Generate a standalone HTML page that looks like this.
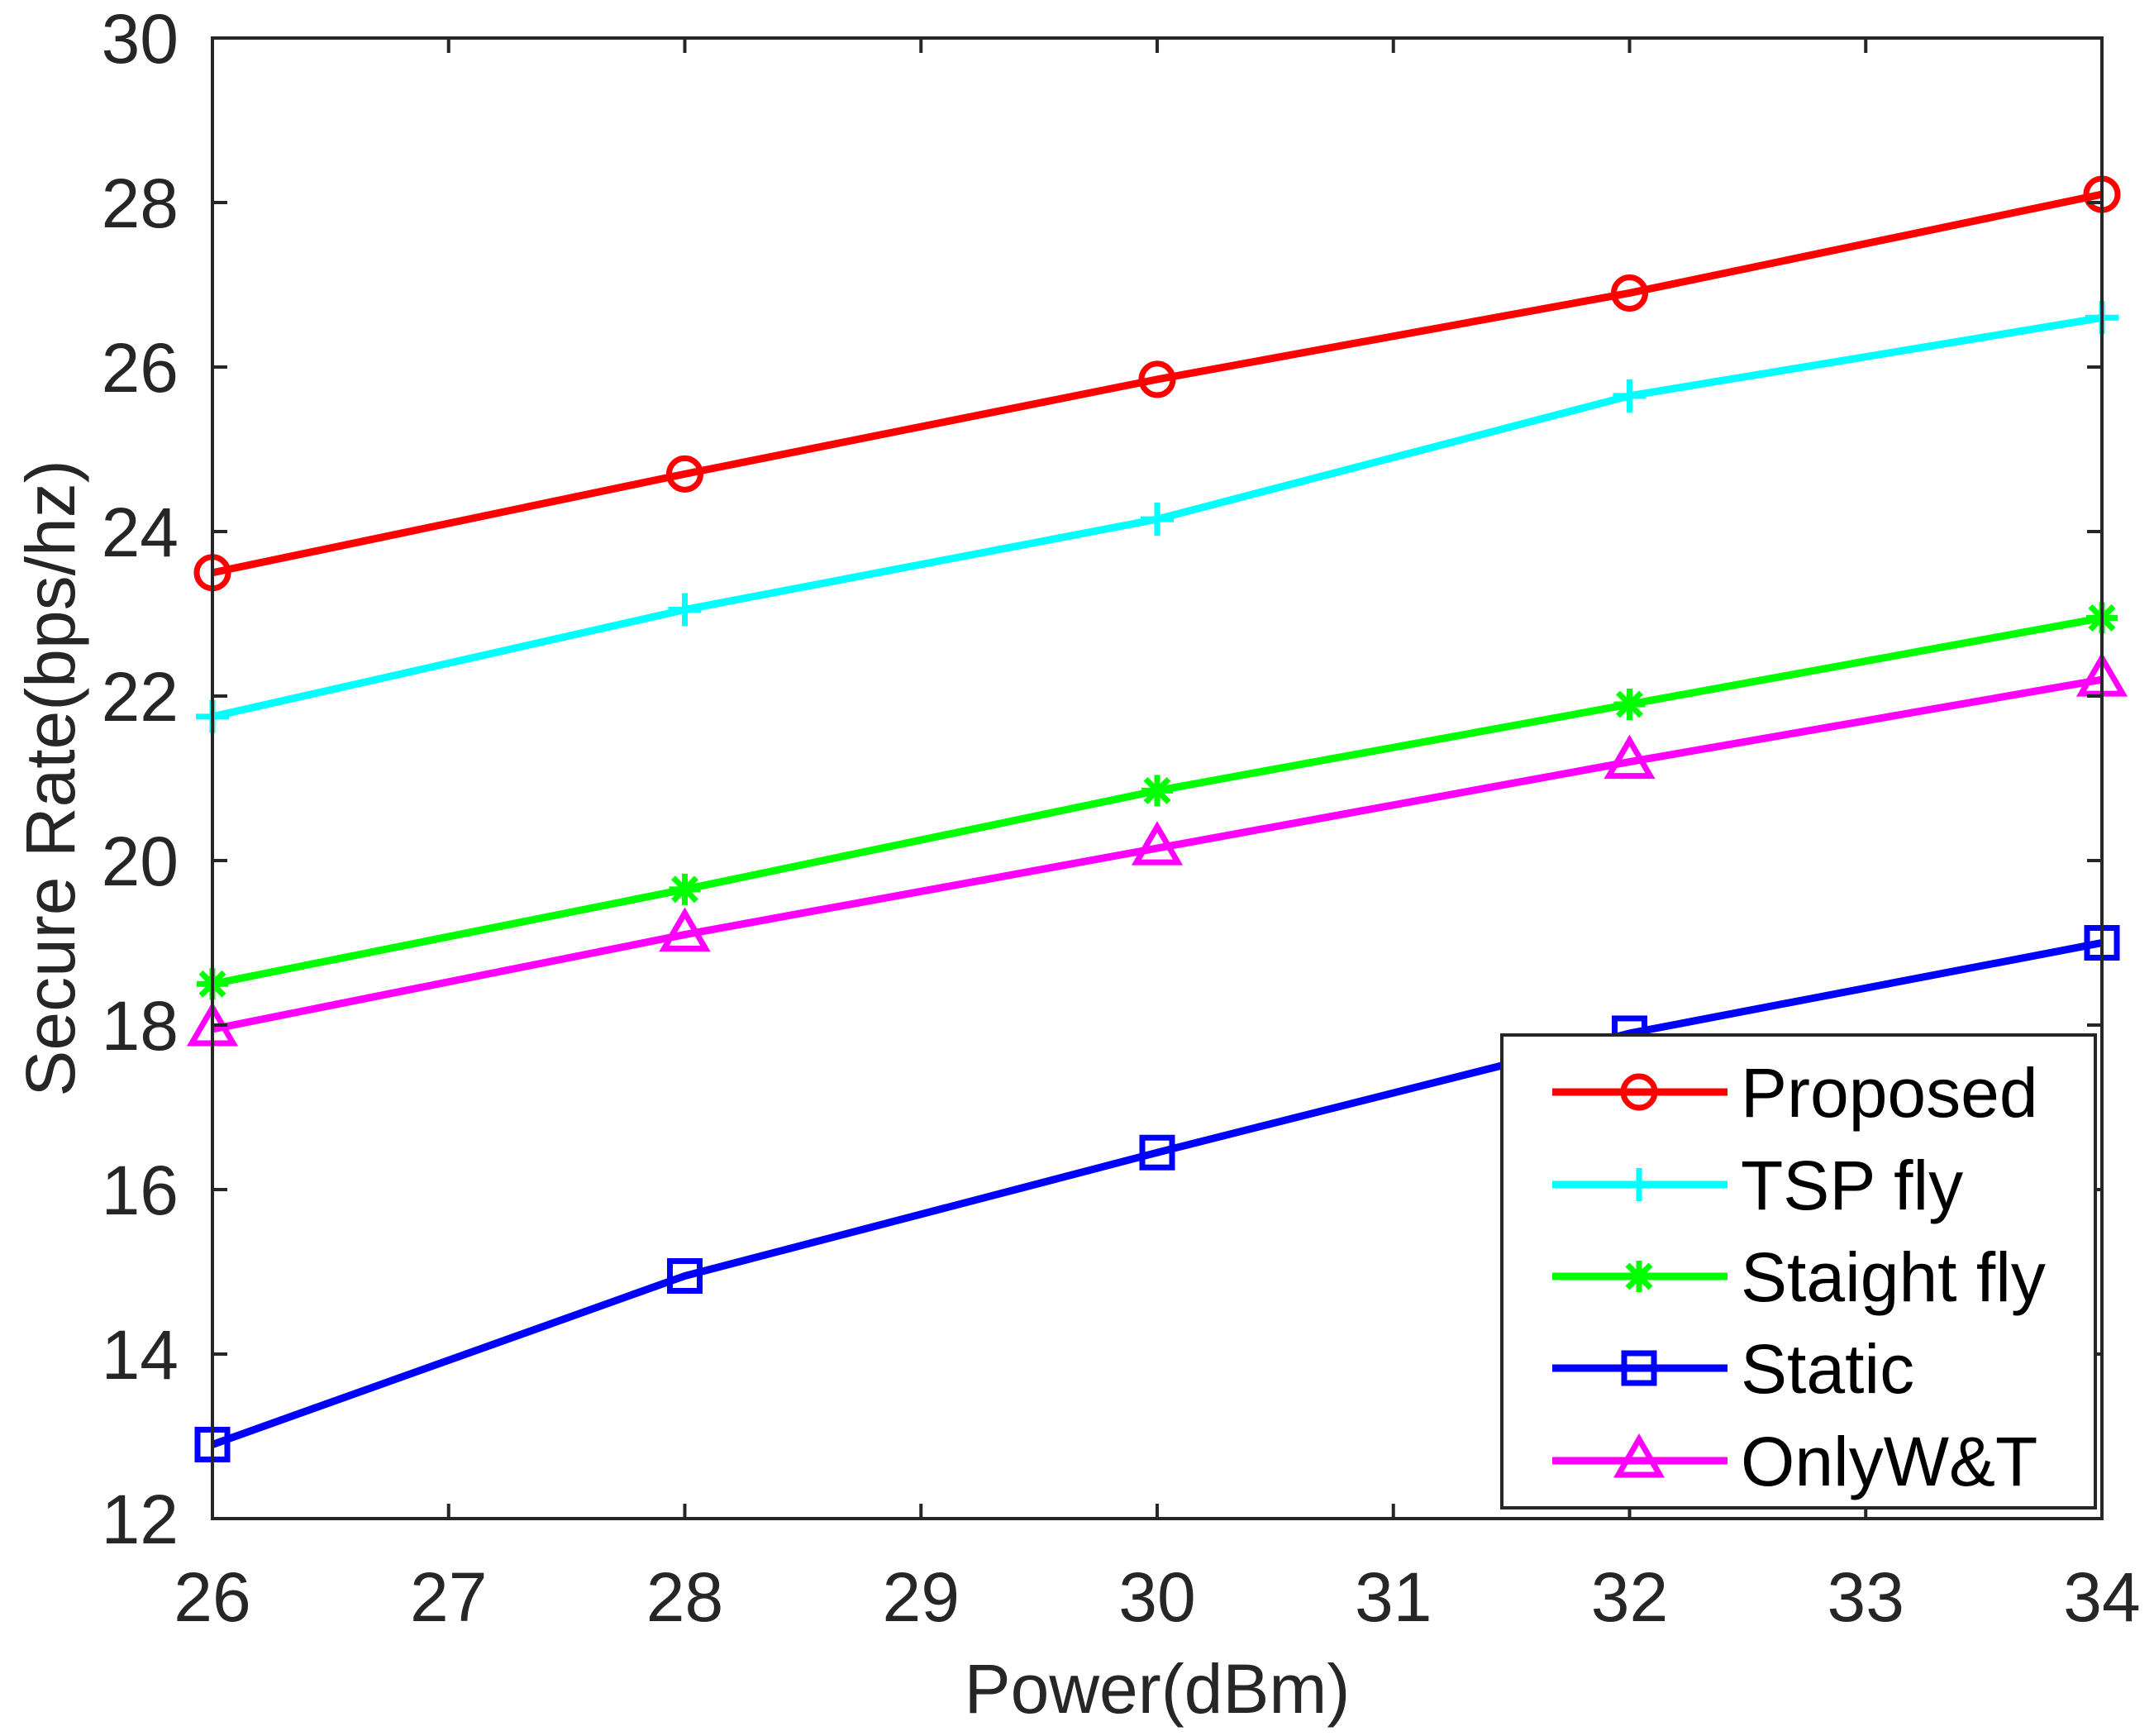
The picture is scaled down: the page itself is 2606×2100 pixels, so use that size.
<!DOCTYPE html>
<html><head><meta charset="utf-8"><style>
html,body{margin:0;padding:0;background:#fff;}
svg{display:block;font-family:"Liberation Sans",Arial,sans-serif;}
</style></head><body>
<svg id="chart" width="2606" height="2100" viewBox="0 0 2606 2100" xmlns="http://www.w3.org/2000/svg">
<rect width="2606" height="2100" fill="#fff"/>
<g id="grid"></g>
<g id="series"></g>
<g id="axes"></g>
<g id="legend"></g>
</svg>
<script>
const categories = [26, 28, 30, 32, 34];
const proposed = [23.5, 24.7, 25.85, 26.9, 28.1];
const tspFly = [21.75, 23.05, 24.15, 25.65, 26.6];
const straightFly = [18.5, 19.65, 20.85, 21.9, 22.95];
const staticVals = [12.9, 14.95, 16.45, 17.9, 19.0];
const onlyWT = [17.95, 19.1, 20.15, 21.2, 22.2];
const xTicks = [26, 27, 28, 29, 30, 31, 32, 33, 34];
const yTicks = [12, 14, 16, 18, 20, 22, 24, 26, 28, 30];
const seriesNames = ["Proposed", "TSP fly", "Staight fly", "Static", "OnlyW&T"];

const NS = "http://www.w3.org/2000/svg";
const L = 257, R = 2543, T = 46, B = 1837;
const xMin = 26, xMax = 34, yMin = 12, yMax = 30;
function xs(v){ return L + (v - xMin) / (xMax - xMin) * (R - L); }
function ys(v){ return B - (v - yMin) / (yMax - yMin) * (B - T); }
function mk(tag, attrs, parent){
  const e = document.createElementNS(NS, tag);
  for (const k in attrs) e.setAttribute(k, attrs[k]);
  parent.appendChild(e);
  return e;
}
const axes = document.getElementById('axes');
const seriesG = document.getElementById('series');
const legendG = document.getElementById('legend');
const ink = "#262626";
const FS = 84;

xTicks.forEach(v => {
  const x = xs(v);
  const t1 = mk('line', {x1:x, y1:B, x2:x, y2:B-18, stroke:ink, 'stroke-width':4}, axes);
  
  
  const t2 = mk('line', {x1:x, y1:T, x2:x, y2:T+18, stroke:ink, 'stroke-width':4}, axes);
  
  
  const lb = mk('text', {x:x, y:1961, 'text-anchor':'middle', 'font-size':FS, fill:ink}, axes);
  lb.textContent = v;
  
  
});
yTicks.forEach(v => {
  const y = ys(v);
  const t1 = mk('line', {x1:L, y1:y, x2:L+18, y2:y, stroke:ink, 'stroke-width':4}, axes);
  
  
  const t2 = mk('line', {x1:R, y1:y, x2:R-18, y2:y, stroke:ink, 'stroke-width':4}, axes);
  
  
  const lb = mk('text', {x:216, y:y+30, 'text-anchor':'end', 'font-size':FS, fill:ink}, axes);
  lb.textContent = v;
  
  
});
const frame = mk('rect', {x:L, y:T, width:R-L, height:B-T, fill:'none', stroke:ink, 'stroke-width':4}, axes);


const xt = mk('text', {x:(L+R)/2, y:2072, 'text-anchor':'middle', 'font-size':FS, fill:ink}, axes);
xt.textContent = 'Power(dBm)';


const yt = mk('text', {x:0, y:0, 'text-anchor':'middle', 'font-size':FS, fill:ink, transform:'translate(90,'+((T+B)/2)+') rotate(-90)'}, axes);
yt.textContent = 'Secure Rate(bps/hz)';



function marker(type, x, y, color, parent){
  const g = mk('g', {}, parent);
  const sw = 7;
  if (type === 'circle') mk('circle', {cx:x, cy:y, r:19, fill:'none', stroke:color, 'stroke-width':sw}, g);
  else if (type === 'plus') { mk('line', {x1:x-20,y1:y,x2:x+20,y2:y,stroke:color,'stroke-width':sw}, g); mk('line', {x1:x,y1:y-20,x2:x,y2:y+20,stroke:color,'stroke-width':sw}, g); }
  else if (type === 'star') {
    mk('line', {x1:x-19,y1:y,x2:x+19,y2:y,stroke:color,'stroke-width':sw}, g);
    mk('line', {x1:x,y1:y-19,x2:x,y2:y+19,stroke:color,'stroke-width':sw}, g);
    mk('line', {x1:x-14,y1:y-14,x2:x+14,y2:y+14,stroke:color,'stroke-width':sw}, g);
    mk('line', {x1:x-14,y1:y+14,x2:x+14,y2:y-14,stroke:color,'stroke-width':sw}, g);
  }
  else if (type === 'square') mk('rect', {x:x-18, y:y-18, width:36, height:36, fill:'none', stroke:color, 'stroke-width':sw}, g);
  else if (type === 'triangle') mk('polygon', {points:(x)+','+(y-26)+' '+(x-25)+','+(y+17)+' '+(x+25)+','+(y+17), fill:'none', stroke:color, 'stroke-width':sw}, g);
  return g;
}

const allSeries = [
  {vals: proposed, color:'#ff0000', m:'circle', key:'proposed'},
  {vals: tspFly, color:'#00ffff', m:'plus', key:'tsp-fly'},
  {vals: straightFly, color:'#00ff00', m:'star', key:'straight-fly'},
  {vals: staticVals, color:'#0000ff', m:'square', key:'static'},
  {vals: onlyWT, color:'#ff00ff', m:'triangle', key:'only-wt'}
];
allSeries.forEach(s => {
  const g = mk('g', {}, seriesG);
  
  
  const pts = s.vals.map((v,i) => xs(categories[i]) + ',' + ys(v)).join(' ');
  const pl = mk('polyline', {points:pts, fill:'none', stroke:s.color, 'stroke-width':9, 'stroke-linejoin':'round'}, g);
  
  
  s.vals.forEach((v,i) => {
    const m = marker(s.m, xs(categories[i]), ys(v), s.color, g);
    
    
  });
});

const lb = mk('rect', {x:1817, y:1252, width:718, height:572, fill:'#fff', stroke:ink, 'stroke-width':4}, legendG);


const rowY = [1321, 1433, 1544, 1655, 1767];
allSeries.forEach((s, i) => {
  const g = mk('g', {}, legendG);
  
  
  const y = rowY[i];
  mk('line', {x1:1878, y1:y, x2:2090, y2:y, stroke:s.color, 'stroke-width':9}, g);
  marker(s.m, 1983, y, s.color, g);
  const t = mk('text', {x:2106, y:y+30, 'font-size':FS, fill:'#000'}, g);
  t.textContent = seriesNames[i];
  
  
});
</script>
</body></html>
